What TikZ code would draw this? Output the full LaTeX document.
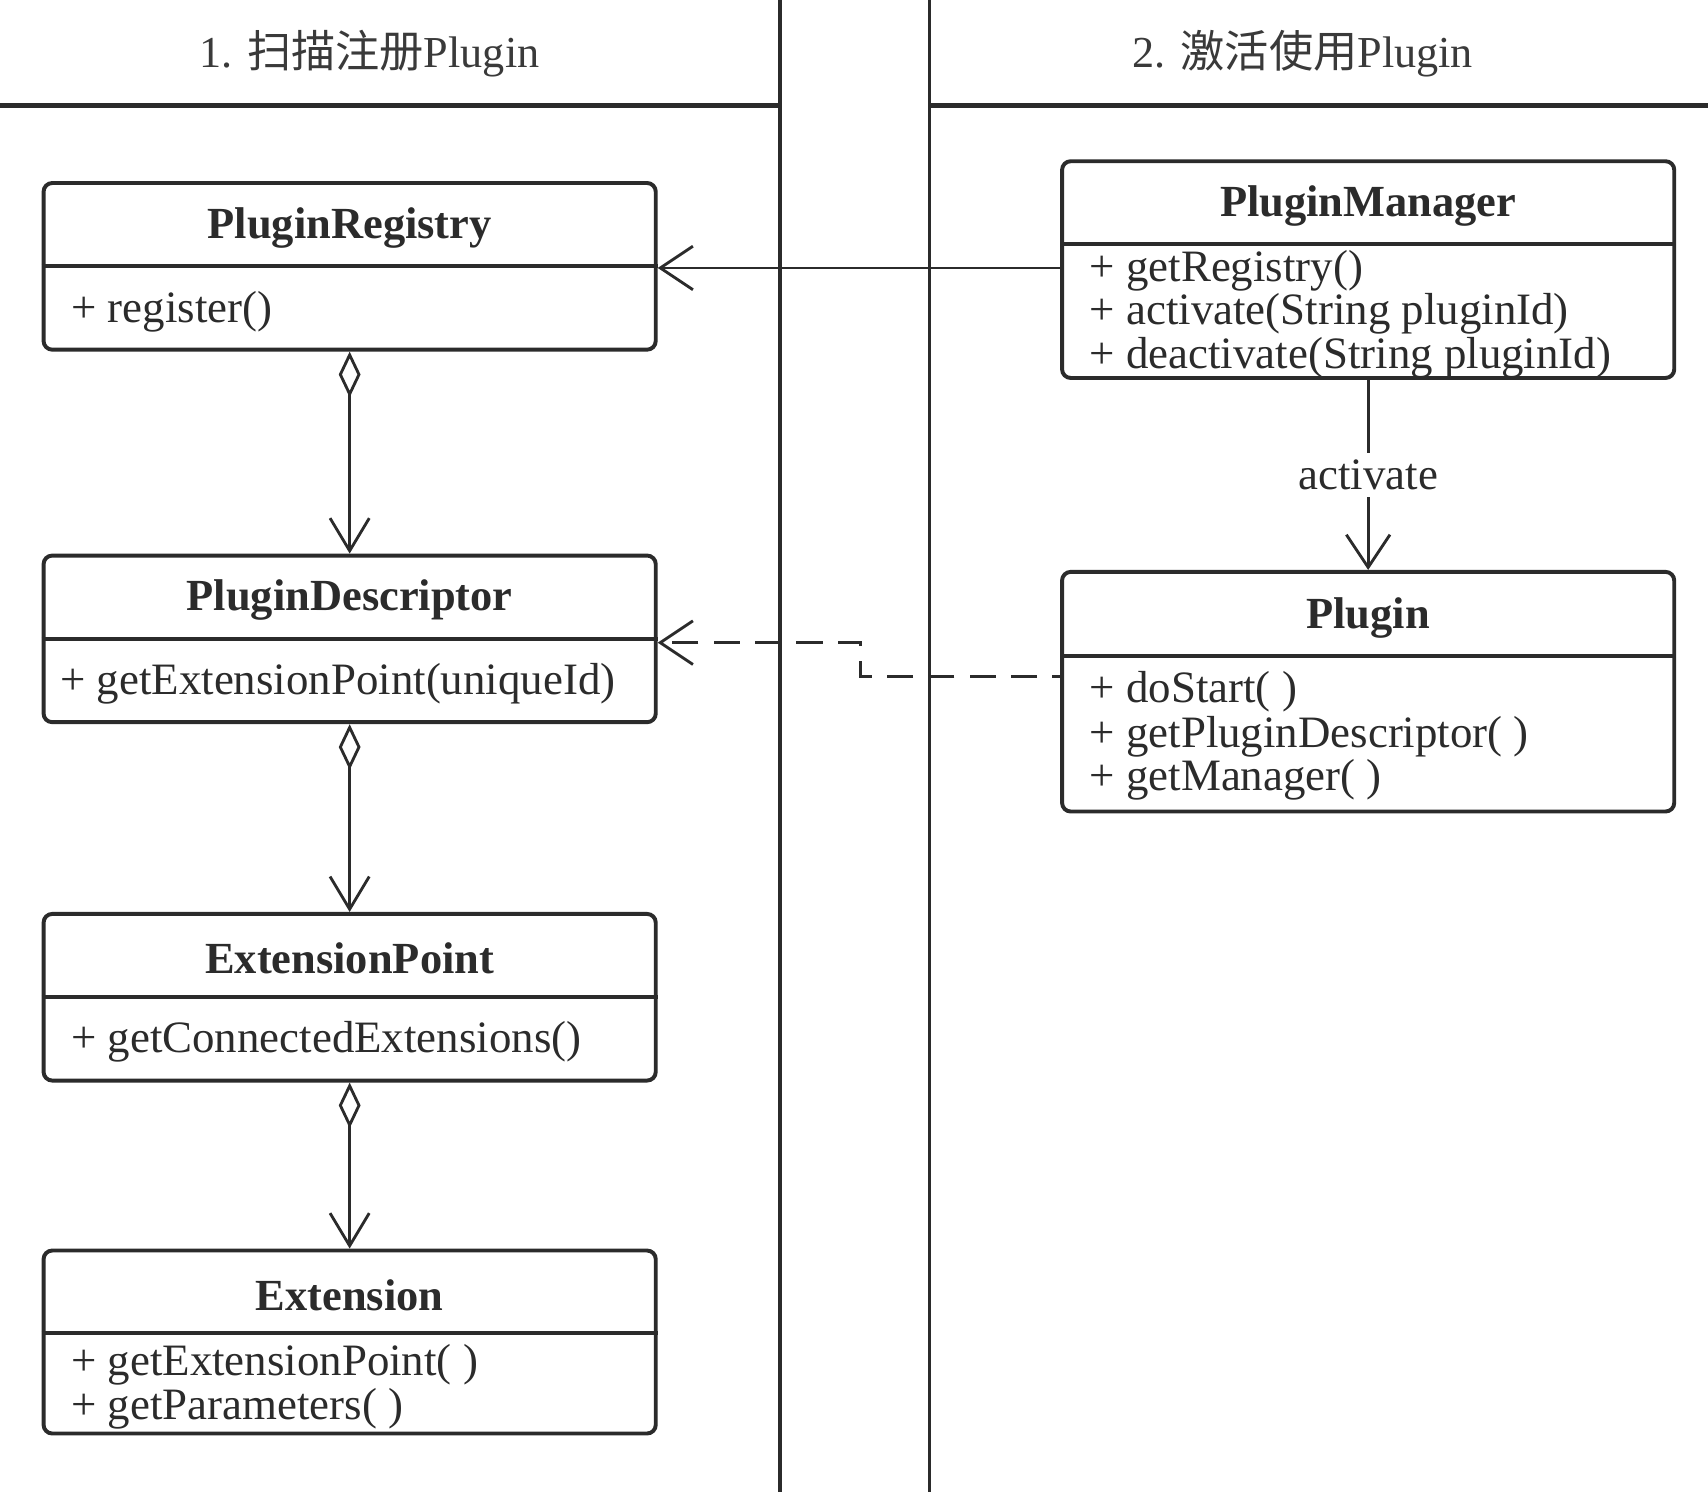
\documentclass[tikz,border=0pt]{standalone}
\usepackage{fontspec}
\setmainfont{Liberation Serif}
\newfontfamily\cjk{Noto Sans CJK SC}
\usetikzlibrary{arrows.meta}
\definecolor{ink}{HTML}{2B2B2B}
\definecolor{headink}{HTML}{3A3A3A}
\begin{document}
\begin{tikzpicture}[x=0.5pt,y=-0.5pt,
  every node/.style={text=ink,font=\fontsize{20.6}{20.6}\selectfont},
  classbox/.style={draw=ink,line width=1.8pt,rounded corners=4pt,minimum width=281pt,inner sep=0pt},
  clstitle/.style={font=\fontsize{20.4}{20.4}\selectfont\bfseries,inner sep=0pt},
  meth/.style={anchor=west,inner sep=0pt,text height=14pt,text depth=5pt},
  divider/.style={draw=ink,line width=1.8pt},
  lane/.style={draw=ink,line width=1.5pt},
  headline/.style={draw=ink,line width=2pt},
  assoc/.style={draw=ink,line width=1.3pt,-{Straight Barb[length=15pt,width=20pt]}},
  agg/.style={draw=ink,line width=1.3pt,{Diamond[open,length=21pt,width=10pt]}-{Straight Barb[length=15pt,width=18pt]}},
  dep/.style={assoc,dash pattern=on 12pt off 7pt,dash phase=8.5pt},
  lbl/.style={fill=white,inner sep=3pt},
  header/.style={text=headink,font=\fontsize{20.3}{20.3}\selectfont}
]
\useasboundingbox (0,0) rectangle (1568,1370);
\fill[white] (0,0) rectangle (1568,1370);

% swimlane frame
\coordinate (l1t) at (716,0);
\coordinate (l1b) at (716,1370);
\coordinate (l2t) at (853,0);
\coordinate (l2b) at (853,1370);
\draw[lane] (l1t) -- (l1b);
\draw[lane] (l2t) -- (l2b);
\coordinate (hA) at (0,97);
\coordinate (hB) at (853,97);
\coordinate (hC) at (1568,97);
\draw[headline] (hA) -- (l1t |- hA);
\draw[headline] (hB) -- (hC);

\node[header] (h1) at (339,49) {1. {\cjk 扫描注册}Plugin};
\node[header] (h2) at (1196,49) {2. {\cjk 激活使用}Plugin};

% PluginRegistry
\node[classbox,minimum height=76.5pt] (reg) at (321,244.5) {};
\draw[divider] (reg.west |- 0,244) -- (reg.east |- 0,244);
\node[clstitle] (regT) at (321,209) {PluginRegistry};
\node[meth] (regM) at (65,287) {+ register()};

% PluginDescriptor
\node[classbox,minimum height=76.5pt] (desc) at (321,586.5) {};
\draw[divider] (desc.west |- 0,587) -- (desc.east |- 0,587);
\node[clstitle] (descT) at (321,551) {PluginDescriptor};
\node[meth] (descM) at (55,629) {+ getExtensionPoint(uniqueId)};

% ExtensionPoint
\node[classbox,minimum height=76.5pt] (ep) at (321,915.5) {};
\draw[divider] (ep.west |- 0,915) -- (ep.east |- 0,915);
\node[clstitle] (epT) at (321,880) {ExtensionPoint};
\node[meth] (epM) at (65,957) {+ getConnectedExtensions()};

% Extension
\node[classbox,minimum height=84pt] (ext) at (321,1232) {};
\draw[divider] (ext.west |- 0,1224) -- (ext.east |- 0,1224);
\node[clstitle] (extT) at (321,1189) {Extension};
\node[meth] (extM1) at (65,1254) {+ getExtensionPoint( )};
\node[meth] (extM2) at (65,1294) {+ getParameters( )};

% PluginManager
\node[classbox,minimum height=99.5pt] (mgr) at (1256,247.5) {};
\draw[divider] (mgr.west |- 0,224) -- (mgr.east |- 0,224);
\node[clstitle] (mgrT) at (1256,189) {PluginManager};
\node[meth] (mgrM1) at (1000,249) {+ getRegistry()};
\node[meth] (mgrM2) at (1000,289) {+ activate(String pluginId)};
\node[meth] (mgrM3) at (1000,329) {+ deactivate(String pluginId)};

% Plugin
\node[classbox,minimum height=110pt] (plg) at (1256,635) {};
\draw[divider] (plg.west |- 0,602) -- (plg.east |- 0,602);
\node[clstitle] (plgT) at (1256,567) {Plugin};
\node[meth] (plgM1) at (1000,636) {+ doStart( )};
\node[meth] (plgM2) at (1000,677) {+ getPluginDescriptor( )};
\node[meth] (plgM3) at (1000,717) {+ getManager( )};

% connectors
\draw[assoc] (mgr.west |- 0,246) -- (reg.east |- 0,246);
\draw[assoc] (mgr.south) -- node[lbl] (actL) {activate} (plg.north);

\coordinate (dS) at (plg.west |- 0,621);
\coordinate (dB1) at (790,621);
\coordinate (dB2) at (790,590);
\draw[dep] (dS) -- (dB1) -- (dB2) -- (desc.east |- dB2);

\draw[agg] (reg.south) -- (desc.north);
\draw[agg] (desc.south) -- (ep.north);
\draw[agg] (ep.south) -- (ext.north);
\end{tikzpicture}
\end{document}
